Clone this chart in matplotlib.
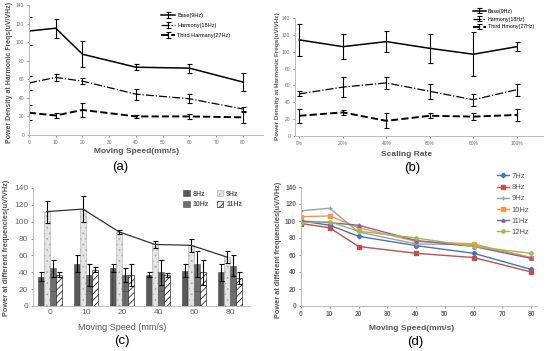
import numpy as np
import matplotlib
matplotlib.use("Agg")
import matplotlib.pyplot as plt

plt.rcParams["font.family"] = ["Liberation Sans", "DejaVu Sans"]
plt.rcParams["hatch.linewidth"] = 0.5

W, H = 550, 351

# ---- data ----
speed = [0, 10, 20, 40, 60, 80]
speed_labels = ["0", "10", "20", "40", "60", "80"]
rate_labels = ["0%", "20%", "40%", "60%", "80%", "100%"]

a_base = [112, 115, 87, 73, 72, 57]
a_base_err = [15, 10, 14, 3, 5, 10]
a_harm = [56, 62, 58, 44, 39, 28]
a_harm_err = [8, 4, 3, 6, 5, 2]
a_third = [24, 21, 27, 20, 20, 19]
a_third_err = [8, 3, 8, 2, 3, 6]

b_base = [114, 106, 112, 104, 97, 106]
b_base_err = [19, 15, 12, 17, 26, 5]
b_harm = [50, 58, 63, 53, 43, 55]
b_harm_err = [3, 12, 7, 9, 7, 7]
b_third = [24, 28, 18, 24, 23, 25]
b_third_err = [8, 3, 9, 3, 4, 7]

c_8 = [35, 50, 45, 37, 42, 40]
c_8_err = [5, 10, 5, 3, 8, 10]
c_9 = [112, 115, 88, 73, 72, 58]
c_9_err = [13, 15, 2, 4, 8, 7]
c_10 = [45, 37, 37, 40, 50, 48]
c_10_err = [10, 13, 8, 15, 15, 12]
c_11 = [37, 43, 37, 37, 40, 33]
c_11_err = [3, 3, 13, 2, 15, 7]

d_7 = [100, 95, 82, 71, 62, 43]
d_8 = [97, 92, 70, 62, 57, 40]
d_9 = [112, 115, 87, 73, 72, 57]
d_10 = [105, 106, 92, 76, 73, 57]
d_11 = [100, 98, 95, 77, 70, 56]
d_12 = [98, 99, 88, 80, 70, 62]

fig = plt.figure(figsize=(W / 100, H / 100), dpi=100)
fig.patch.set_facecolor("white")


def px_axes(l, t, r, b):
    return fig.add_axes([l / W, 1 - b / H, (r - l) / W, (b - t) / H])


def px_text(x, y, s, **kw):
    fig.text(x / W, 1 - y / H, s, ha="center", va="center", **kw)


def style(ax, fs):
    for s in ["top", "right"]:
        ax.spines[s].set_visible(False)
    for s in ["left", "bottom"]:
        ax.spines[s].set_color("#bbbbbb")
        ax.spines[s].set_linewidth(0.7)
    ax.tick_params(labelsize=fs, colors="#666666", length=1.5, width=0.5, pad=2)


lab = dict(color="#555555", fontweight="bold")
ekw = dict(ecolor="black", elinewidth=0.8, capsize=1.8, capthick=0.8)

# ---- (a) ----
ax = px_axes(29, 5, 263, 135)
ax.errorbar(speed, a_base, yerr=a_base_err, color="black", lw=1.1, ls="-", label="Base(9Hz)", **ekw)
ax.errorbar(speed, a_harm, yerr=a_harm_err, color="black", lw=0.9, ls="-.", label="Harmony(18Hz)", **ekw)
ax.errorbar(speed, a_third, yerr=a_third_err, color="black", lw=1.4, ls="--", label="Third Harmany(27Hz)", **ekw)
ax.set_xlim(0, 87.5)
ax.set_ylim(0, 140)
ax.set_xticks(range(0, 90, 10))
ax.set_yticks(range(0, 160, 20))
style(ax, 3.5)
ax.legend(loc="upper left", bbox_to_anchor=(158 / W, 1 - 10 / H), bbox_transform=fig.transFigure,
          frameon=False, fontsize=4, handlelength=2.5, labelspacing=0.9, borderpad=0, handletextpad=0.5)
px_text(137, 152, "Moving Speed(mm/s)", fontsize=6, **lab)
px_text(10, 72, "Power Density at Harmonic Freqs(uV/VHz)", fontsize=5, rotation=90, **lab)
px_text(120, 167, "(a)", fontsize=9.5, color="black")

# ---- (b) ----
ax = px_axes(295, 18, 543, 136)
xb = np.arange(len(rate_labels))
ax.errorbar(xb, b_base, yerr=b_base_err, color="black", lw=1.1, ls="-", label="Base(9Hz)", **ekw)
ax.errorbar(xb, b_harm, yerr=b_harm_err, color="black", lw=0.9, ls="-.", label="Harmony(18Hz)", **ekw)
ax.errorbar(xb, b_third, yerr=b_third_err, color="black", lw=1.4, ls="--", label="Third Hmony(27Hz)", **ekw)
ax.set_xlim(-0.1, 5.6)
ax.set_ylim(0, 140)
ax.set_xticks(xb)
ax.set_xticklabels(rate_labels)
ax.set_yticks(range(0, 160, 20))
style(ax, 3.5)
ax.legend(loc="upper left", bbox_to_anchor=(470 / W, 1 - 6 / H), bbox_transform=fig.transFigure,
          frameon=False, fontsize=3.8, handlelength=2.5, labelspacing=0.55, borderpad=0, handletextpad=0.4)
px_text(407, 154, "Scaling Rate", fontsize=6, **lab)
px_text(278, 76, "Power Density at Harmonic Freqs(uV/VHz)", fontsize=4.6, rotation=90, **lab)
px_text(412, 168, "(b)", fontsize=9.5, color="black")

# ---- (c) ----
ax = px_axes(33, 188, 250, 306)
xc = np.arange(len(speed_labels))
bw = 0.17
b8 = ax.bar(xc - 1.5 * bw, c_8, bw, yerr=c_8_err, color="#5a5a5a", edgecolor="#444444", lw=0.4,
            hatch="||", label="8Hz", error_kw=ekw)
b9 = ax.bar(xc - 0.5 * bw, c_9, bw, yerr=c_9_err, color="#e4e4e4", edgecolor="#aaaaaa", lw=0.4,
            hatch="...", label="9Hz", error_kw=ekw)
b10 = ax.bar(xc + 0.5 * bw, c_10, bw, yerr=c_10_err, color="#6e6e6e", edgecolor="#555555", lw=0.4,
             hatch="+", label="10Hz", error_kw=ekw)
b11 = ax.bar(xc + 1.5 * bw, c_11, bw, yerr=c_11_err, color="white", edgecolor="black", lw=0.4,
             hatch="/////", label="11Hz", error_kw=ekw)
ax.plot(xc - 0.5 * bw, c_9, color="#333333", lw=0.9)
ax.set_xlim(-0.47, 5.55)
ax.set_ylim(0, 140)
ax.set_xticks(xc)
ax.set_xticklabels(speed_labels)
ax.set_yticks(range(0, 160, 20))
style(ax, 6)
ax.tick_params(axis="x", length=0)
ax.legend([b8, b10, b9, b11], ["8Hz", "10Hz", "9Hz", "11Hz"],
          loc="upper left", bbox_to_anchor=(180 / W, 1 - 187 / H), bbox_transform=fig.transFigure,
          ncol=2, frameon=False, handlelength=0.9, handleheight=0.9, labelspacing=0.5,
          borderpad=0, handletextpad=0.4, columnspacing=1.2, prop={"weight": "bold", "size": 5},
          labelcolor="#555555")
px_text(122, 327, "Moving Speed (mm/s)", fontsize=6.5, color="#555555")
px_text(7, 248, "Power at different frequencies(uV/VHz)", fontsize=5.3, rotation=90, **lab)
px_text(122, 341, "(c)", fontsize=9.5, color="black")

# ---- (d) ----
ax = px_axes(301, 187, 537, 306)
series = [("7Hz", d_7, "#4472c4", "D"), ("8Hz", d_8, "#c0504d", "s"),
          ("9Hz", d_9, "#a0a0a0", "+"), ("10Hz", d_10, "#f79646", "s"),
          ("11Hz", d_11, "#8064a2", "^"), ("12Hz", d_12, "#9bbb59", "o")]
for name, vals, col, mk in series:
    ax.plot(speed, vals, color=col, marker=mk, ms=2.3, lw=1.0, label=name)
ax.set_xlim(0, 82)
ax.set_ylim(0, 140)
ax.set_xticks(range(0, 90, 10))
ax.set_yticks(range(0, 160, 20))
style(ax, 4.8)
for t in ax.get_xticklabels() + ax.get_yticklabels():
    t.set_fontweight("bold")
ax.legend(loc="upper left", bbox_to_anchor=(493 / W, 1 - 169 / H), bbox_transform=fig.transFigure,
          frameon=False, fontsize=5.5, handlelength=1.6, labelspacing=0.5, borderpad=0,
          handletextpad=0.3, labelcolor="#555555")
px_text(412, 329, "Moving Speed(mm/s)", fontsize=6, **lab)
px_text(278, 250, "Power at different frequencies(uV/VHz)", fontsize=5.3, rotation=90, **lab)
px_text(415, 342, "(d)", fontsize=9.5, color="black")

fig.savefig("out.png", dpi=100, facecolor="white")
